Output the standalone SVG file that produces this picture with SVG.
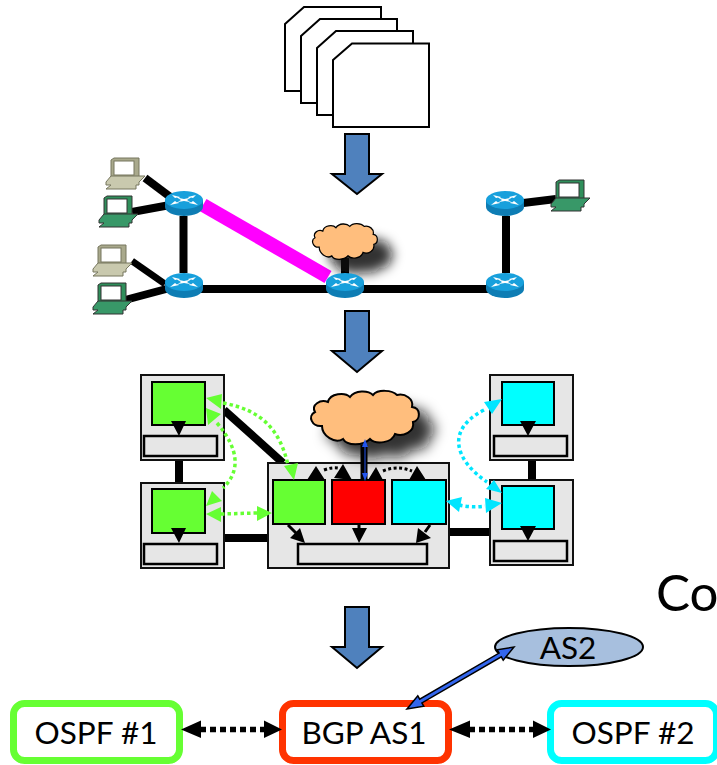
<svg xmlns="http://www.w3.org/2000/svg" width="717" height="765" viewBox="0 0 717 765">
<style>
text{font-family:Lato,"Liberation Sans",sans-serif;fill:#000;text-anchor:middle}
.lbl{font-size:31.500px}
.doc{fill:#fff;stroke:#000;stroke-width:2}
.flow{fill:#4F81BD;stroke:#000;stroke-width:2}
.link{stroke:#000;fill:none;stroke-linecap:butt}
.outer{fill:#E6E6E6;stroke:#111;stroke-width:2}
.slot{fill:#E6E6E6;stroke:#000;stroke-width:2.5}
.g{fill:#66FF33;stroke:#000;stroke-width:2}
.r{fill:#FF0000;stroke:#000;stroke-width:2}
.c{fill:#00FFFF;stroke:#000;stroke-width:2}
.tri{fill:#000}
.gh{fill:#66FF33}
.ch{fill:#00E5FF}
.gd{fill:none;stroke:#66FF33;stroke-width:3.500;stroke-dasharray:3.500 3}
.cd{fill:none;stroke:#00E5FF;stroke-width:3.500;stroke-dasharray:3.500 3}
.kd{fill:none;stroke:#000;stroke-width:3;stroke-dasharray:3 2.500}
.bd{fill:none;stroke:#000;stroke-width:5.500;stroke-dasharray:6 4}
.cl{fill:#FFBE7D;stroke:#000;stroke-width:2;vector-effect:non-scaling-stroke}
.clsh{fill:#111;opacity:.85}
.box{fill:#fff;stroke-width:7}
</style>
<defs>
<filter id="blur" x="-40%" y="-60%" width="180%" height="220%"><feGaussianBlur stdDeviation="6"/></filter>
<filter id="blur2" x="-40%" y="-60%" width="180%" height="220%"><feGaussianBlur stdDeviation="7"/></filter>
<path id="cloud" d="M12,36 C2,37 -3,26 5,22 C1,15 10,9 18,12 C20,3 35,2 40,7 C45,0 58,0 63,5 C68,-1 82,0 87,5 C95,3 104,9 102,17 C111,18 111,30 103,32 C105,42 93,47 85,44 C82,53 66,55 60,49 C53,56 37,56 33,49 C25,54 12,46 12,36 Z"/>
<g id="router">
<path d="M0,9 V16 C0,21 9,25 19,25 C29,25 38,21 38,16 V9 Z" fill="#0E7DB4"/>
<ellipse cx="19" cy="9" rx="19" ry="9" fill="#18A0DC"/>
<path d="M7,4 L15,6 L14,7 L19,8 L24,7 L23,6 L31,4 L28,7 L26,6.500 L22,9 L26,11.500 L28,10 L33,14 L24,12 L25,11 L19,10 L13,11 L14,12 L5,14 L10,10 L12,11.500 L16,9 L12,6.500 L10,7 Z" fill="#fff"/>
</g>
<g id="pcb">
<path d="M5,2 L8,0 H33 V20 H5 Z" fill="#A9A98C" stroke="#77775f" stroke-width="1"/>
<rect x="8" y="3" width="20" height="14" fill="#fff" stroke="#77775f"/>
<path d="M5,18 H39 L33,24 V27 H30 V31 H0 L5,27 H0 V24 Z" fill="#C9C9AE" stroke="#77775f" stroke-width="1"/>
</g>
<g id="pcg">
<path d="M5,2 L8,0 H33 V20 H5 Z" fill="#2F8F5B" stroke="#333" stroke-width="1"/>
<rect x="8" y="3" width="20" height="14" fill="#fff" stroke="#333"/>
<path d="M5,18 H39 L33,24 V27 H30 V31 H0 L5,27 H0 V24 Z" fill="#389868" stroke="#333" stroke-width="1"/>
</g>
</defs>

<g id="documents">
<path class="doc" d="M285,24 L304,7 H381 V91 H285 Z"/>
<path class="doc" d="M301,36 L320,19 H397 V103 H301 Z"/>
<path class="doc" d="M317,48 L336,31 H413 V115 H317 Z"/>
<path class="doc" d="M333,60 L352,43.500 H429 V127 H333 Z"/>
</g>

<g id="flows">
<path class="flow" d="M345,134 H369 V174 H382 L357,194 L332,174 H345 Z"/>
<path class="flow" d="M345,311 H369 V351 H382 L357,372 L332,351 H345 Z"/>
<path class="flow" d="M345,607 H369 V647 H382 L357,668 L332,647 H345 Z"/>
</g>

<g id="connectors">
<g class="link">
<path d="M145,178 L177,202" stroke-width="8"/>
<path d="M132,212 L170,205" stroke-width="8"/>
<path d="M183.500,216 V273" stroke-width="8"/>
<path d="M132,261 L165,284" stroke-width="7"/>
<path d="M125,300 L170,288" stroke-width="8"/>
<path d="M200,289 H490" stroke-width="8"/>
<path d="M345,258 V275" stroke-width="8"/>
<path d="M506,216 V273" stroke-width="8"/>
<path d="M515,204 L556,199" stroke-width="8"/>
<path d="M203,205 L328,277" stroke="#FF00FF" stroke-width="14"/>
<path d="M179,460 V483" stroke-width="8"/>
<path d="M224,410 L283,463" stroke-width="8"/>
<path d="M224,538 H269" stroke-width="8"/>
<path d="M532,460 V480" stroke-width="8"/>
<path d="M449,532 H490" stroke-width="8"/>
</g>
</g>

<g id="pc1"><use href="#pcb" x="106" y="158"/></g>
<g id="pc2"><use href="#pcg" x="99" y="196"/></g>
<g id="pc3"><use href="#pcb" x="93" y="245"/></g>
<g id="pc4"><use href="#pcg" x="93" y="283"/></g>
<g id="pc5"><use href="#pcg" x="551" y="180"/></g>

<g id="cloud1">
<g filter="url(#blur)"><use href="#cloud" class="clsh" transform="translate(328,238) scale(0.6,0.67)"/></g>
<use href="#cloud" class="cl" transform="translate(312,223) scale(0.6,0.67)"/>
</g>

<g id="router1"><use href="#router" x="165" y="191"/></g>
<g id="router2"><use href="#router" x="165" y="273"/></g>
<g id="router3"><use href="#router" x="326" y="273"/></g>
<g id="router4"><use href="#router" x="486" y="191"/></g>
<g id="router5"><use href="#router" x="486" y="273"/></g>

<g id="box-top-left">
<rect class="outer" x="141" y="375" width="83" height="85"/>
<rect class="g" x="152" y="382" width="53" height="43"/>
<rect class="slot" x="144" y="436" width="73" height="20"/>
<path class="tri" d="M171,421 H186 L179,436 Z"/>
</g>
<g id="box-bottom-left">
<rect class="outer" x="141" y="483" width="83" height="85"/>
<rect class="g" x="152" y="489" width="53" height="44"/>
<rect class="slot" x="144" y="544" width="73" height="20"/>
<path class="tri" d="M171,528 H186 L179,543 Z"/>
</g>
<g id="box-top-right">
<rect class="outer" x="490" y="375" width="83" height="85"/>
<rect class="c" x="502" y="382" width="52" height="43"/>
<rect class="slot" x="494" y="436" width="73" height="20"/>
<path class="tri" d="M520,421 H536 L528,436 Z"/>
</g>
<g id="box-bottom-right">
<rect class="outer" x="490" y="480" width="83" height="85"/>
<rect class="c" x="502" y="486" width="52" height="43"/>
<rect class="slot" x="494" y="541" width="73" height="20"/>
<path class="tri" d="M520,526 H536 L528,541 Z"/>
</g>
<g id="box-center">
<rect class="outer" x="268" y="463" width="181" height="105"/>
<rect class="g" x="273" y="480" width="52" height="44"/>
<rect class="r" x="332" y="480" width="53" height="44"/>
<rect class="c" x="392" y="480" width="54" height="44"/>
<rect class="slot" x="298" y="544" width="129" height="20"/>
<path class="link" stroke-width="3" d="M288,525 L296,533 M359,525 V530 M430,525 L425,532"/>
<path class="tri" d="M307,480 H325 L316,466 Z M334,478 L352,480 L343,464 Z M368,480 H383 L376,467 Z M409,480 H426 L417,466 Z M290,538 L300,528 L305,543 Z M352,528 H367 L359,543 Z M416,543 L418,528 L431,538 Z"/>
<path class="kd" d="M324,470 Q332,467 338,468"/>
<path class="kd" d="M383,471 Q397,465 412,471"/>
</g>

<g id="cloud2">
<g filter="url(#blur2)"><use href="#cloud" class="clsh" transform="translate(326,405)"/></g>
<use href="#cloud" class="cl" transform="translate(310,390)"/>
</g>

<g id="dotted">
<path class="gd" d="M223,403 C262,410 280,430 288,465"/>
<path class="gd" d="M217,423 C240,450 240,472 223,488"/>
<path class="gd" d="M221,514 L257,513"/>
<path class="gh" d="M206,398 L222,394 L221,409 Z M284,466 L298,463 L294,480 Z M206,408 L221,414 L208,425 Z M206,506 L212,491 L222,501 Z M206,514 L221,507 V522 Z M272,513 L257,506 V521 Z"/>
<path class="cd" d="M484,410 C445,430 455,460 487,482"/>
<path class="cd" d="M459,505 Q472,508 485,506"/>
<path class="ch" d="M502,399 L484,402 L492,414 Z M502,493 L486,489 L494,480 Z M446,501 L462,497 L459,512 Z M502,503 L485,498 L486,513 Z"/>
<path d="M364,445 V480" stroke="#000" stroke-width="7"/>
<path d="M365,442 V478" stroke="#2255EE" stroke-width="1"/>
<path d="M365,439 L362,447 H368 Z M365,481 L362,473 H368 Z" fill="#2255EE"/>
</g>

<g id="as2">
<ellipse cx="569" cy="647" rx="74" ry="19" fill="#A7BFDE" stroke="#000" stroke-width="2"/>
<text class="lbl" x="568" y="659">AS2</text>
</g>
<g id="ospf1">
<rect class="box" x="13.500" y="703.500" width="166" height="57" rx="11" stroke="#66FF33"/>
<text class="lbl" x="96" y="744">OSPF #1</text>
</g>
<g id="bgp">
<rect class="box" x="282.500" y="703.500" width="166" height="57" rx="11" stroke="#FF3300"/>
<text class="lbl" x="364" y="744">BGP AS1</text>
</g>
<g id="ospf2">
<rect class="box" x="550.500" y="703.500" width="166" height="57" rx="11" stroke="#00FFFF"/>
<text class="lbl" x="633" y="744">OSPF #2</text>
</g>
<g id="bottom-links">
<path class="bd" d="M200,729.500 H265"/>
<path class="bd" d="M469,729.500 H534"/>
<path class="tri" d="M181,729.500 L201,720.500 V738 Z M282,729.500 L264,720.500 V738 Z M449,729.500 L470,720.500 V738 Z M551,729.500 L533,720.500 V738 Z"/>
<path d="M514,647 L503.200,660.200 L501.300,656.900 L421.900,702.900 L423.800,706.200 L407,709 L417.800,695.800 L419.700,699.100 L499.100,653.100 L497.200,649.800 Z" fill="#3366EE" stroke="#000" stroke-width="1.500"/>
</g>
<text x="656" y="611" font-size="51" style="text-anchor:start">Co</text>
</svg>
